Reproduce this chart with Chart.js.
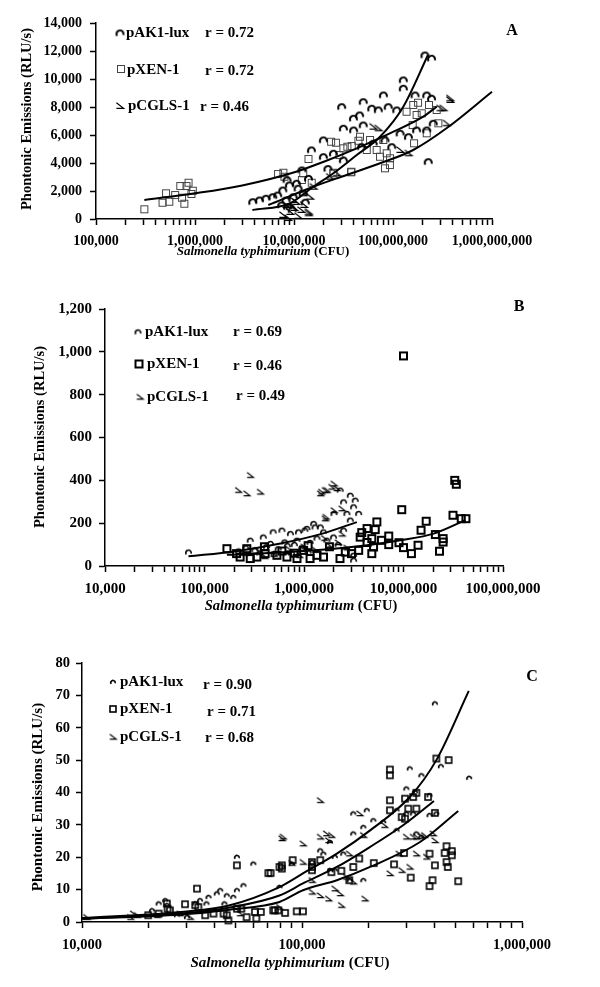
<!DOCTYPE html>
<html>
<head>
<meta charset="utf-8">
<script src="https://cdn.jsdelivr.net/npm/chart.js@4.4.1/dist/chart.umd.min.js"></script>
<style>
  body { margin: 0; background: #fff; width: 600px; height: 987px; position: relative; overflow: hidden; }
  .panel { position: absolute; left: 0; width: 600px; }
</style>
</head>
<body>
<div class="panel" style="top:0;height:270px"><canvas id="chartA" width="600" height="270"></canvas></div>
<div class="panel" style="top:290px;height:330px"><canvas id="chartB" width="600" height="330"></canvas></div>
<div class="panel" style="top:640px;height:347px"><canvas id="chartC" width="600" height="347"></canvas></div>
<script>
// ---- Panel A data: [CFU, RLU/s] ----
const aLux = [[3.83e6,1236],[4.47e6,1357],[5.2e6,1479],[6.1e6,1593],[6.84e6,1714],[7.7e6,2071],[8.3e6,1357],[8.97e6,2429],
  [8.6e6,879],[9.6e6,643],[9.1e6,879],[9.8e6,1593],[1.06e7,2550],[1.24e7,1836],[1.5e7,4929],[1.98e7,5643],[1.98e7,4450],
  [2.5e7,4693],[3.15e7,4214],[3.03e7,8021],[3.15e7,6479],[3.98e7,7193],[4e7,6357],[4.6e7,7429],[4.8e7,5164],[5e7,8379],
  [5e7,6714],[6.1e7,7907],[6.3e7,5407],[7.1e7,7786],[8e7,8857],[8.3e7,5643],[8.95e7,8021],[9.7e7,5164],[1.09e8,7786],
  [1.18e8,6121],[1.27e8,9929],[1.27e8,9336],[1.43e8,5879],[1.67e8,8857],[1.73e8,6357],[2.1e8,11714],[2.45e8,11479],
  [2.19e8,8857],[2.45e8,8621],[2.19e8,6357],[2.55e8,6836],[2.27e8,4093],[1.2e7,3500],[1.4e7,2900],[8.5e6,2800],
  [1.1e7,2200],[2.2e7,3600],[1.3e7,1200],[7.5e6,1000]];
const aXen = [[3.08e5,693],[4.7e5,1164],[5.1e5,1835],[5.5e5,1236],[6.3e5,1714],[7.1e5,2357],[7.4e5,1521],[7.8e5,1093],
  [8.2e5,2357],[8.6e5,2593],[9.2e5,1786],[9.5e5,2021],[6.9e6,3214],[8e6,3021],[1.4e7,4286],[1.24e7,3264],[2.5e7,3307],
  [3.77e7,3336],[2.37e7,5521],[2.65e7,5450],[3.15e7,5050],[3.46e7,5164],[3.83e7,5214],[2.87e7,4571],[4.47e7,5593],
  [5.43e7,4929],[4.64e7,5879],[5.86e7,5643],[6.84e7,4929],[7.39e7,4450],[7.98e7,5643],[8.63e7,4693],[9.33e7,4336],
  [8.3e7,3621],[9.3e7,3857],[1.37e8,7664],[1.6e8,8143],[1.73e8,7429],[1.58e8,6714],[1.63e8,5407],[2.87e8,6836],
  [1.79e8,8307],[1.95e8,7550],[2.19e8,6121],[2.31e8,8143],[2.76e8,7786],[7.8e6,3307],[1.2e7,2786],[1.51e7,2593],
  [2.5e7,3264],[3.8e7,3379]];
const aCgls = [[3.77e8,8500],[3.22e8,7907],[3.47e8,6836],[7.1e7,6479],[1.57e7,2307],[1.45e7,1593],[1.4e7,407],
  [2.3e7,3021],[2.7e7,3264],[1.4e7,521],[3.77e8,8621],[3e8,7907],[1.24e7,1836],[9.8e6,1357],[7.74e6,286],[8.3e6,1000],
  [9.1e6,500],[1e7,786],[1.1e7,214],[1.18e7,643],[1.26e7,1000],[8.7e6,71],[1.05e7,1214],[6.3e7,6593],[1.18e8,4929],
  [1.43e8,4693]];
const aLuxFit = [[3.8e6,643],[9.1e6,1121],[1.57e7,2307],[2.5e7,3264],[4.3e7,4571],[7.4e7,5879],[1.27e8,8021],[2.25e8,11700]];
const aXenFit = [[3.08e5,1357],[1e6,1835],[3e6,2400],[1.05e7,3379],[2e7,4093],[4.3e7,5050],[9.3e7,6121],[2.02e8,7307],[2.76e8,8021]];
const aCglsFit = [[5.5e6,1000],[1.57e7,2307],[3.4e7,3143],[7.4e7,3979],[1.6e8,4929],[3.47e8,6479],[1e9,9093]];

// ---- Panel B data ----
const bLux = [[6.9e4,65],[2.2e5,70],[2.6e5,85],[2.88e5,120],[3.2e5,75],[3.9e5,135],[4.2e5,90],[4.6e5,105],[4.9e5,159],
  [5.5e5,80],[6e5,167],[6.4e5,112],[6.8e5,95],[7.3e5,151],[8e5,100],[8.5e5,120],[8.8e5,159],[9.5e5,85],[1.02e6,167],
  [1.07e6,175],[1.15e6,110],[1.25e6,198],[1.29e6,182],[1.35e6,130],[1.46e6,182],[1.57e6,159],[1.7e6,120],[1.98e6,135],
  [2e6,245],[2.2e6,100],[2.31e6,354],[2.5e6,299],[2.5e6,167],[2.7e6,245],[2.92e6,330],[2.92e6,214],[3.15e6,276],
  [3.27e6,307],[3.54e6,245],[3.15e6,50],[3.15e6,27],[3.6e5,60],[5e5,55],[7.5e5,60],[1.1e6,65],[1.8e6,80]];
const bXen = [[1.68e5,81],[2.1e5,58],[2.28e5,42],[2.66e5,81],[2.88e5,35],[3.36e5,42],[4.07e5,58],[5.34e5,50],[6.73e5,42],
  [8.5e5,35],[9.9e5,73],[1.15e6,35],[1.35e6,50],[1.57e6,42],[2.3e6,35],[3e6,58],[3.54e6,73],[3.8e6,156],[4.3e6,175],
  [4.8e6,128],[4.8e6,58],[5e6,89],[5.2e6,170],[5.4e6,206],[3.67e6,135],[7.1e6,140],[7.1e6,100],[9e6,109],[9.6e6,263],
  [1e7,86],[1e7,981],[1.2e7,58],[1.4e7,97],[1.5e7,167],[1.69e7,209],[2.09e7,147],[2.3e7,69],[2.5e7,128],[2.5e7,112],
  [3.14e7,237],[3.27e7,400],[3.39e7,382],[3.8e7,221],[4.24e7,221],[4.3e6,110],[6e5,70],[8e5,60],[1.8e6,90],[2.6e6,65],
  [6e6,120],[4e5,90],[1.1e6,95]];
const bCgls = [[2.19e5,354],[2.66e5,338],[2.88e5,424],[3.63e5,346],[1.46e6,338],[1.5e6,346],[1.63e6,354],[1.7e6,354],
  [1.9e6,369],[2.14e6,362],[2e6,384],[2e6,260],[1.63e6,221],[1.66e6,229],[2.4e6,268],[2.5e5,60],[3.5e5,70],[5e5,55],
  [7e5,80],[1e6,90],[1.3e6,75],[1.8e6,95],[2.2e6,110],[2.7e6,85],[1.6e6,130],[4e5,45],[9e5,50],[2.4e6,150]];
const bLuxFit = [[6.9e4,45],[2e5,68],[5.8e5,105],[1.5e6,150],[3.4e6,205]];
const bXenFit = [[1.68e5,52],[5e5,62],[2e6,81],[4.3e6,97],[9.3e6,120],[2.01e7,151],[4.19e7,214]];

// ---- Panel C data ----
const cLux = [[4.02e5,67.5],[5.75e5,44.5],[4.28e5,48.1],[3.09e5,47.4],[3.49e5,45.3],[2.98e5,41.2],[3.26e5,40.2],
  [3.8e5,39.1],[2.69e5,34.5],[2.69e5,28.3],[2.98e5,33.5],[3.2e5,33.5],[3.8e5,33],[4.08e5,33.5],[1.71e5,33.5],
  [1.97e5,34.5],[2.11e5,31.4],[1.9e5,29.3],[2.34e5,30.9],[1.71e5,27.3],[1.54e5,21.1],[1.41e5,20.1],[1.25e5,21.1],
  [1.34e5,24.7],[1.21e5,22.1],[1.11e5,18.5],[1.34e5,16],[1.41e5,16],[3.31e5,27.3],[3.49e5,26.3],[1.65e5,12.9],
  [1.9e5,12.9],[5.06e4,20.1],[6.01e4,18],[5.42e4,11.3],[5.06e4,9.8],[4.87e4,7.7],[4.55e4,8.2],[4.25e4,9.8],[4.1e4,8.8],
  [3.76e4,7.7],[3.68e4,5.7],[3.44e4,6.7],[3.27e4,5.7],[2.39e4,6.7],[2.23e4,5.7],[2.08e4,3.6],[2.43e4,5.2],[3e4,1.5],
  [2.7e4,2.1],[4.44e4,5.7],[7.9e4,10.8],[9e4,18]];
const cXen = [[4.08e5,50.5],[4.64e5,50],[2.51e5,47.1],[2.51e5,45.3],[2.51e5,37.6],[2.51e5,34.5],[2.94e5,38.1],[3.2e5,38.6],
  [3.31e5,39.9],[3.04e5,35],[3.31e5,35],[2.84e5,32.4],[2.94e5,31.9],[3.74e5,38.6],[4.02e5,33.7],[3.8e5,21.1],
  [4.54e5,23.4],[4.45e5,21.3],[4.8e5,21.9],[4.8e5,20.6],[4.02e5,17.5],[4.6e5,17],[4.54e5,18.5],[3.92e5,12.9],
  [3.8e5,11.1],[3.12e5,13.7],[5.13e5,12.6],[2.91e5,21.3],[2.62e5,17.8],[2.12e5,18.2],[1.82e5,19.6],[1.71e5,17],
  [1.64e5,12.9],[1.51e5,15.8],[1.36e5,15.4],[1.21e5,19.1],[1.11e5,18.5],[1.11e5,17],[1.11e5,16],[9.07e4,19.1],
  [8.1e4,17.5],[8.1e4,16.5],[7.2e4,15.1],[7.53e4,3.6],[8.38e4,2.8],[9.46e4,3.3],[1.01e5,3.3],[3.33e4,10.3],[5.06e4,17.5],
  [7.03e4,15.1],[7.9e4,17],[2.43e4,5.7],[2.45e4,4.1],[2.94e4,5.5],[3.27e4,5.2],[3.38e4,4.6],[3.63e4,2.1],[3.96e4,2.6],
  [4.4e4,2.6],[4.55e4,2.1],[4.63e4,0.5],[5.06e4,4.1],[5.3e4,4.1],[5.6e4,1.5],[6.11e4,3.1],[6.5e4,3.1],[6.2e4,1.1],
  [7.4e4,3.6],[7.8e4,3.6],[2.51e4,3.6],[2.23e4,2.6],[2e4,2.1]];
const cCgls = [[1.21e5,37.6],[1.01e5,24.2],[1.21e5,26.3],[1.29e5,27.3],[1.32e5,25.2],[1.36e5,26.8],[8.2e4,26.3],
  [1.01e5,18.5],[8.98e4,18.2],[1.64e5,21.1],[1.83e5,33.5],[1.9e5,26.8],[2.37e5,29.9],[2.51e5,15],[2.84e5,16],
  [2.76e5,21.1],[2.98e5,26.3],[3.2e5,26.3],[3.31e5,26.3],[3.49e5,26.5],[3.6e5,26.8],[4.02e5,25.2],[3.94e5,27.3],
  [3.31e5,21.1],[3.68e5,20.1],[3.09e5,17],[1.49e5,8.8],[1.93e5,7.2],[1.51e5,5.2],[1.32e5,7.2],[1.41e5,10.3],[1.11e5,9.3],
  [1.59e5,13.9],[1.71e5,12.4],[1.11e5,12.9],[1.21e5,8.2],[8.1e4,25.8],[1.71e4,2.6],[1.78e4,2.1],[1.66e4,1.5],
  [2.19e4,2.1],[2.79e4,2.6],[3.1e4,1.5],[5.23e4,2.6],[7.9e4,4.6],[1.05e4,1.5]];
const cLuxFit = [[1e4,1.2],[2.8e4,3.1],[4.7e4,5.2],[7.9e4,10.8],[1.01e5,15],[1.44e5,21.1],[2.04e5,28.3],[3.09e5,38.6],[4.08e5,50],[5.73e5,71.4]];
const cXenFit = [[1e4,1.0],[2.8e4,2.6],[4.7e4,4.5],[7.9e4,8.2],[1.01e5,11.9],[1.44e5,17],[2.04e5,23.2],[2.88e5,29.9],[3.98e5,37.4]];
const cCglsFit = [[1e4,1.0],[2.8e4,2.3],[4.7e4,3.8],[7.9e4,6.2],[1.01e5,9.8],[1.44e5,12.9],[2.04e5,17],[3.44e5,24.7],[5.13e5,34.3]];

// legend labels / r values
const strains = ['pAK1-lux', 'pXEN-1', 'pCGLS-1'];
const rA = ['r = 0.72', 'r = 0.72', 'r = 0.46'];
const rB = ['r = 0.69', 'r = 0.46', 'r = 0.49'];
const rC = ['r = 0.90', 'r = 0.71', 'r = 0.68'];

const SERIF = '"Liberation Serif", "Times New Roman", serif';
Chart.defaults.font.family = SERIF;
Chart.defaults.color = '#000';

// ---- marker glyphs ----
function luxMarker(size, lw) {
  const c = document.createElement('canvas');
  c.width = c.height = Math.ceil(size + lw + 2);
  const g = c.getContext('2d');
  const m = c.width / 2;
  g.strokeStyle = '#000'; g.lineWidth = lw; g.lineCap = 'butt';
  g.beginPath();
  g.arc(m, m + size * 0.1, size / 2 - lw / 2, Math.PI * 0.8, Math.PI * 2.1);
  g.stroke();
  return c;
}
function squareMarker(size, lw, color) {
  const c = document.createElement('canvas');
  c.width = c.height = Math.ceil(size + lw + 2);
  const g = c.getContext('2d');
  const o = (c.width - size) / 2;
  g.strokeStyle = color; g.lineWidth = lw;
  g.strokeRect(o, o, size, size);
  return c;
}
function cglsMarker(size, lw) {
  const c = document.createElement('canvas');
  c.width = c.height = Math.ceil(size + lw + 2);
  const g = c.getContext('2d');
  const m = c.width / 2, s = size;
  g.strokeStyle = '#000'; g.lineWidth = lw;
  g.beginPath();
  g.moveTo(m - s * 0.45, m - s * 0.4);
  g.lineTo(m + s * 0.45, m + s * 0.3);
  g.lineTo(m - s * 0.45, m + s * 0.3);
  g.stroke();
  return c;
}

const pts = arr => arr.map(p => ({ x: p[0], y: p[1] }));

// draws titles, in-plot legend and panel letter
const panelText = {
  id: 'panelText',
  afterDraw(chart, args, o) {
    const ctx = chart.ctx;
    ctx.save();
    ctx.fillStyle = '#000';
    ctx.textBaseline = 'middle';
    // y title
    ctx.save();
    ctx.translate(o.yTitle[0], o.yTitle[1]);
    ctx.rotate(-Math.PI / 2);
    ctx.textAlign = 'center';
    ctx.font = `bold ${o.titleSize}px ${SERIF}`;
    ctx.fillText('Phontonic Emissions (RLU/s)', 0, 0);
    ctx.restore();
    // x title, italic species name
    ctx.textAlign = 'left';
    const itFont = `italic bold ${o.xTitleSize}px ${SERIF}`;
    const bFont = `bold ${o.xTitleSize}px ${SERIF}`;
    ctx.font = itFont;
    const w1 = ctx.measureText('Salmonella typhimurium').width;
    ctx.font = bFont;
    const w2 = ctx.measureText(' (CFU)').width;
    let x0 = o.xTitle[0] - (w1 + w2) / 2;
    ctx.font = itFont;
    ctx.fillText('Salmonella typhimurium', x0, o.xTitle[1]);
    ctx.font = bFont;
    ctx.fillText(' (CFU)', x0 + w1, o.xTitle[1]);
    // legend
    ctx.font = `bold ${o.legendSize}px ${SERIF}`;
    o.rows.forEach((r, i) => {
      const mk = o.markers[i];
      ctx.drawImage(mk, r.m[0] - mk.width / 2, r.m[1] - mk.height / 2);
      ctx.fillText(strains[i], r.l[0], r.l[1]);
      ctx.fillText(o.r[i], r.r[0], r.r[1]);
    });
    // panel letter
    ctx.textAlign = 'center';
    ctx.font = `bold ${o.letterSize}px ${SERIF}`;
    ctx.fillText(o.letter, o.letterPos[0], o.letterPos[1]);
    ctx.restore();
  }
};

function decadeLabel(v) {
  const e = Math.log10(v);
  return Math.abs(e - Math.round(e)) < 1e-9 ? Number(v).toLocaleString('en-US') : '';
}

// 1..9 x 10^n tick marks between the decades of the range
function logTicks(scale, range) {
  const lo = Math.round(Math.log10(range[0])), hi = Math.round(Math.log10(range[1]));
  const t = [];
  for (let e = lo; e < hi; e++) {
    for (let k = 1; k < 10; k++) t.push({ value: k * Math.pow(10, e) });
  }
  t.push({ value: Math.pow(10, hi) });
  scale.ticks = t;
}

function makePanel(id, cfg) {
  const fit = (data) => ({
    data: pts(data), showLine: true, borderColor: '#000', borderWidth: 2,
    pointRadius: 0, fill: false, cubicInterpolationMode: 'monotone', clip: false
  });
  const scat = (data, marker) => ({
    data: pts(data), showLine: false, pointStyle: marker, pointRadius: 4, clip: false
  });
  return new Chart(document.getElementById(id), {
    type: 'scatter',
    data: {
      datasets: [
        fit(cfg.fits[0]), fit(cfg.fits[1]), ...(cfg.fits[2] ? [fit(cfg.fits[2])] : []),
        scat(cfg.lux, cfg.markers[0]),
        scat(cfg.xen, cfg.markers[1]),
        scat(cfg.cgls, cfg.markers[2])
      ]
    },
    options: {
      responsive: false,
      animation: false,
      layout: { padding: { top: cfg.area.top, right: 600 - cfg.area.right } },
      scales: {
        x: {
          type: 'logarithmic', min: cfg.xRange[0], max: cfg.xRange[1],
          afterBuildTicks: s => logTicks(s, cfg.xRange),
          afterFit: s => { s.height = cfg.H - cfg.area.bottom; },
          grid: { drawOnChartArea: false, drawTicks: true, tickLength: 6, color: '#000', tickColor: '#000', tickWidth: 1.5 },
          border: { display: true, color: '#000', width: 1.5 },
          ticks: {
            autoSkip: false, maxRotation: 0, padding: cfg.xPad,
            font: { size: cfg.tickSize, weight: 'bold' },
            callback: v => decadeLabel(v)
          }
        },
        y: {
          min: cfg.yRange[0], max: cfg.yRange[1],
          afterFit: s => { s.width = cfg.area.left; },
          grid: { drawOnChartArea: false, drawTicks: true, tickLength: 6, color: '#000', tickColor: '#000', tickWidth: 1.5 },
          border: { display: true, color: '#000', width: 1.5 },
          ticks: {
            stepSize: cfg.yStep, padding: cfg.yPad,
            font: { size: cfg.tickSize, weight: 'bold' },
            callback: v => Number(v).toLocaleString('en-US')
          }
        }
      },
      plugins: {
        legend: { display: false },
        tooltip: { enabled: false },
        panelText: cfg.text
      }
    },
    plugins: [panelText]
  });
}

const mkA = [luxMarker(9, 2), squareMarker(7, 1, '#444'), cglsMarker(8, 1.2)];
const mkB = [luxMarker(7, 1.6), squareMarker(7, 2, '#000'), cglsMarker(7, 1.2)];
const mkC = [luxMarker(6, 1.6), squareMarker(6, 1.6, '#000'), cglsMarker(7, 1.2)];

makePanel('chartA', {
  H: 270, area: { left: 96, top: 23, right: 492, bottom: 219 },
  xRange: [1e5, 1e9], yRange: [0, 14000], yStep: 2000, tickSize: 14, xPad: 8, yPad: 8,
  lux: aLux, xen: aXen, cgls: aCgls, fits: [aLuxFit, aXenFit, aCglsFit], markers: mkA,
  text: {
    titleSize: 14.5, xTitleSize: 13, legendSize: 15, letterSize: 16, letter: 'A', letterPos: [512, 31],
    yTitle: [27, 119], xTitle: [263, 252], markers: mkA, r: rA,
    rows: [
      { m: [120, 33], l: [126, 33], r: [205, 33] },
      { m: [121, 69], l: [127, 70], r: [205, 71] },
      { m: [120, 106], l: [128, 106], r: [200, 107] }
    ]
  }
});

makePanel('chartB', {
  H: 330, area: { left: 105, top: 19, right: 503, bottom: 276 },
  xRange: [1e4, 1e8], yRange: [0, 1200], yStep: 200, tickSize: 15, xPad: 8, yPad: 7,
  lux: bLux, xen: bXen, cgls: bCgls, fits: [bLuxFit, bXenFit], markers: mkB,
  text: {
    titleSize: 14.5, xTitleSize: 14.5, legendSize: 15, letterSize: 16, letter: 'B', letterPos: [519, 17],
    yTitle: [40, 147], xTitle: [301, 316], markers: mkB, r: rB,
    rows: [
      { m: [138, 42], l: [145, 42], r: [233, 42] },
      { m: [139, 74], l: [147, 74], r: [233, 76] },
      { m: [140, 107], l: [147, 107], r: [236, 106] }
    ]
  }
});

makePanel('chartC', {
  H: 347, area: { left: 82, top: 23, right: 522, bottom: 282 },
  xRange: [1e4, 1e6], yRange: [0, 80], yStep: 10, tickSize: 14.5, xPad: 9, yPad: 6,
  lux: cLux, xen: cXen, cgls: cCgls, fits: [cLuxFit, cXenFit, cCglsFit], markers: mkC,
  text: {
    titleSize: 15, xTitleSize: 15, legendSize: 15, letterSize: 16, letter: 'C', letterPos: [532, 37],
    yTitle: [38, 157], xTitle: [290, 323], markers: mkC, r: rC,
    rows: [
      { m: [113, 42], l: [120, 42], r: [203, 45] },
      { m: [113, 69], l: [120, 69], r: [207, 72] },
      { m: [113, 97], l: [120, 97], r: [205, 98] }
    ]
  }
});
</script>
</body>
</html>
